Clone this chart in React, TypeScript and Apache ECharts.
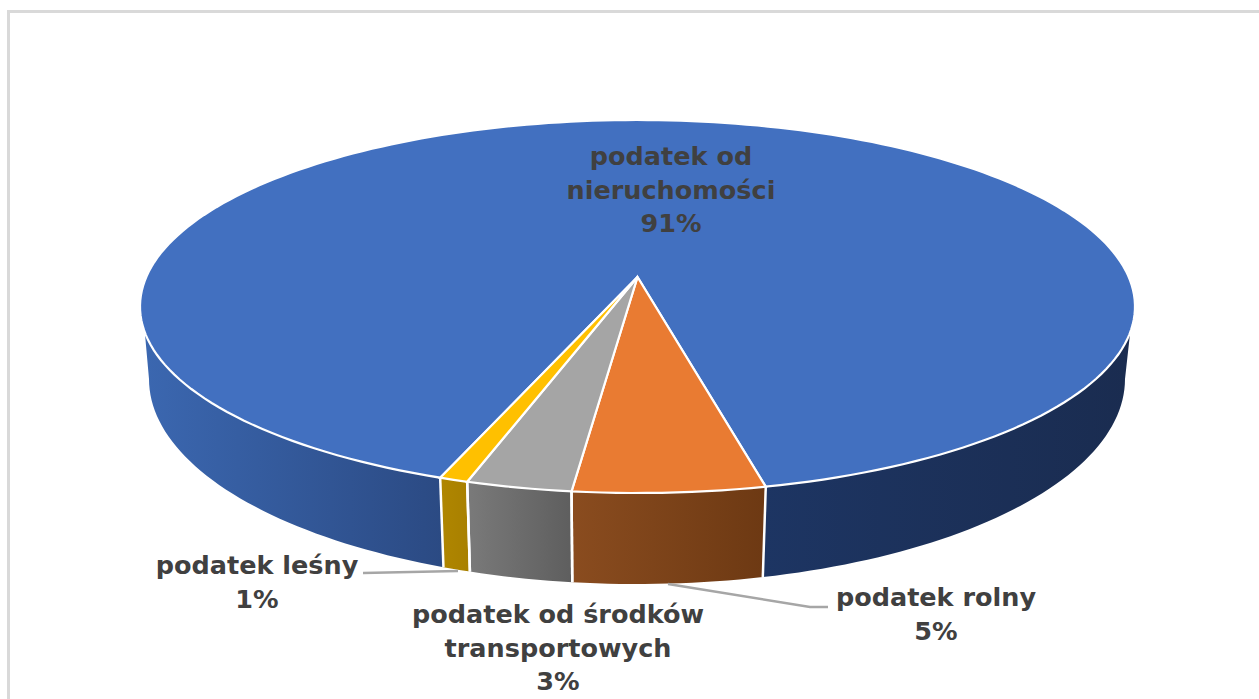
import React, { useEffect, useRef } from "react";
import * as echarts from "echarts";

const categories = ["podatek od nieruchomości", "podatek rolny", "podatek od środków transportowych", "podatek leśny"];
const values = [90.9, 5.35, 2.95, 0.8];
const topColors = ["#4270c0", "#e97b32", "#a5a5a5", "#ffc000"];
const wallStops = [
  ["#3b67b0", "#2b4a83"],
  ["#8a4c1f", "#6d3913"],
  ["#7a7a7a", "#5e5e5e"],
  ["#b08600", "#a88000"],
];
const wallRightStops = ["#1d3563", "#1a2c50"];
const labelLines = [["podatek od", "nieruchomości"], ["podatek rolny"], ["podatek od środków", "transportowych"], ["podatek leśny"]];
const labelAnchors = [[671, 156], [936, 597], [558, 614], [257, 565]];
const leaders = [null, [[668, 584], [810, 607], [828, 607]], null, [[363, 573], [458, 571]]];

const TOP = { cx: 637.5, cy: 306.5, rx: 497.5, ry: 186.5 };
const BOTTOM = { cx: 637, cy: 379, rx: 488, ry: 205 };
const APEX_V = -0.158;
const BLUE_START_DEG = 110;
const WALL_T_MIN = 8;
const WALL_T_MAX = 172;
const RAD = Math.PI / 180;

// true pie angle -> parameter angle on the projected ellipse (perspective)
function paramOf(deg: number) {
  const u = Math.cos(deg * RAD);
  const v = Math.sin(deg * RAD);
  const d = 1 + v * APEX_V;
  const u2 = (u * Math.sqrt(1 - APEX_V * APEX_V)) / d;
  const v2 = (v + APEX_V) / d;
  return Math.atan2(v2, u2) / RAD;
}
const on = (e: any, t: number) => [e.cx + e.rx * Math.cos(t * RAD), e.cy + e.ry * Math.sin(t * RAD)];
const APEX = [TOP.cx, TOP.cy + APEX_V * TOP.ry];

function arc(e: any, a: number, b: number) {
  const n = Math.max(2, Math.ceil(Math.abs(b - a) / 1.5));
  const pts: number[][] = [];
  for (let i = 0; i <= n; i++) pts.push(on(e, a + ((b - a) * i) / n));
  return pts;
}

function wall(a: number, b: number, colors: string[]) {
  // a < b are parameter angles inside the visible front of the pie
  const ta = Math.max(a, WALL_T_MIN);
  const tb = Math.min(b, WALL_T_MAX);
  const ba = a <= WALL_T_MIN ? 0 : a;
  const bb = b >= WALL_T_MAX ? 180 : b;
  const pts = [...arc(TOP, ta, tb), ...arc(BOTTOM, bb, ba)];
  const xs = pts.map((p) => p[0]);
  return {
    type: "polygon",
    z2: 1,
    shape: { points: pts },
    style: {
      fill: new echarts.graphic.LinearGradient(
        Math.min(...xs), 0, Math.max(...xs), 0,
        [{ offset: 0, color: colors[0] }, { offset: 1, color: colors[1] }],
        true
      ),
    },
  };
}

function divider(t: number) {
  const p = on(TOP, t);
  const q = on(BOTTOM, t);
  return {
    type: "line",
    z2: 1.5,
    shape: { x1: p[0], y1: p[1], x2: q[0], y2: q[1] },
    style: { stroke: "#ffffff", lineWidth: 2.5 },
  };
}

function renderItem(params: any, api: any) {
  const i = params.dataIndex;
  const total = values.reduce((s, v) => s + v, 0);
  let before = 0;
  for (let k = 0; k < i; k++) before += values[k];
  const start = BLUE_START_DEG + (before / total) * 360;
  const sweep = (api.value(0) / total) * 360;
  const end = start + sweep;

  const children: any[] = [];
  let t0 = paramOf(start);
  let t1 = paramOf(end);
  while (t0 < 0) t0 += 360;
  while (t1 < 0) t1 += 360;
  if (i === 0) {
    // wraps behind the pie: two visible pieces
    children.push(wall(t0, 180, wallStops[0]));
    children.push(wall(0, t1, wallRightStops));
  } else {
    children.push(wall(Math.min(t0, t1), Math.max(t0, t1), wallStops[i]));
    children.push(divider(t0));
    children.push(divider(t1));
  }
  // top face
  const n = Math.ceil(sweep / 1.5);
  const facePts: number[][] = [APEX];
  for (let k = 0; k <= n; k++) facePts.push(on(TOP, paramOf(start + (sweep * k) / n)));
  children.push({
    type: "polygon",
    z2: 2,
    shape: { points: facePts },
    style: { fill: topColors[i], stroke: "#ffffff", lineWidth: 2.2, lineJoin: "miter" },
  });

  // label
  const lines = [...labelLines[i], `${Math.round(api.value(0))}%`];
  lines.forEach((line, k) => {
    children.push({
      type: "text",
      z2: 5,
      style: {
        x: labelAnchors[i][0],
        y: labelAnchors[i][1] + k * 33.5,
        text: line,
        fill: "#404040",
        font: 'bold 25.5px "DejaVu Sans"',
        align: "center",
        verticalAlign: "middle",
      },
    });
  });
  const leader = leaders[i];
  if (leader) {
    children.push({
      type: "polyline",
      z2: 4,
      shape: { points: leader },
      style: { fill: "none", stroke: "#a6a6a6", lineWidth: 2.5 },
    });
  }
  return { type: "group", children };
}

export default function App() {
  const ref = useRef<HTMLDivElement>(null);
  useEffect(() => {
    const chart = echarts.init(ref.current!, undefined, { renderer: "svg" });
    chart.setOption({
      animation: false,
      backgroundColor: "#ffffff",
      graphic: [
        {
          type: "rect",
          silent: true,
          shape: { x: 8.5, y: 11.5, width: 1400, height: 900 },
          style: { fill: "none", stroke: "#d9d9d9", lineWidth: 3 },
        },
      ],
      series: [
        {
          type: "custom",
          coordinateSystem: "none",
          data: categories.map((name, i) => ({ name, value: values[i] })),
          renderItem,
        },
      ],
    });
    return () => chart.dispose();
  }, []);
  return <div ref={ref} style={{ position: "absolute", left: 0, top: 0, width: 1259, height: 699 }} />;
}
